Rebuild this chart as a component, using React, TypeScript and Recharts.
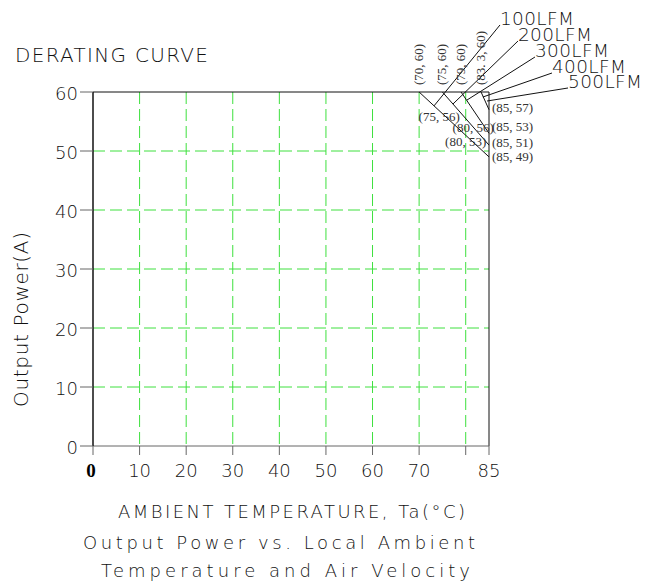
import { LineChart, Line, XAxis, YAxis, CartesianGrid, ReferenceLine } from "recharts";

// Derating curves: output (A) against ambient temperature (°C), one per air velocity
const CURVE_NAMES = ["100LFM", "200LFM", "300LFM", "400LFM"];
const CURVE_TEMPS = [
  [70, 85],
  [75, 85],
  [79, 85],
  [83.3, 85],
];
const CURVE_POWER = [
  [60, 49],
  [60, 51],
  [60, 53],
  [60, 57],
];

const X_TICKS = [0, 10, 20, 30, 40, 50, 60, 70, 80, 85];
const Y_TICKS = [0, 10, 20, 30, 40, 50, 60];
const X_GRID = [10, 20, 30, 40, 50, 60, 70, 80];
const Y_GRID = [10, 20, 30, 40, 50];

// labels on the break points
const TOP_LABELS = ["(70, 60)", "(75, 60)", "(79, 60)", "(83. 3, 60)"];
const TOP_LABEL_T = [70, 75, 79, 83.3];
const END_LABELS = ["(85, 57)", "(85, 53)", "(85, 51)", "(85, 49)"];
const END_LABEL_P = [57.3, 54.1, 51.4, 49.0];
const MID_LABELS = ["(75, 56)", "(80, 56)", "(80, 53)"];
const MID_LABEL_T = [74.3, 81.6, 80.0];
const MID_LABEL_P = [55.9, 54.0, 51.6];

// air velocity labels and their leader lines
const LFM_LABELS = ["100LFM", "200LFM", "300LFM", "400LFM", "500LFM"];
const LEADER_FROM = [
  [73.2, 57.65],
  [77.27, 57.97],
  [80.28, 58.64],
  [83.69, 59.15],
  [84.57, 58.47],
];
const LEADER_TO = [
  [87.36, 71.36],
  [91.22, 68.64],
  [94.87, 65.93],
  [98.52, 63.22],
  [101.96, 60.68],
];

const W = 646;
const H = 585;
const PLOT = { left: 93, top: 92, right: 489, bottom: 446 };
const X_MAX = 85;
const Y_MAX = 60;

const GRID_GREEN = "#3ee03e";
const INK = "#111";
const CAD_FONT = "'DejaVu Sans', sans-serif";
const SERIF = "'Liberation Serif', 'DejaVu Serif', serif";

const px = (t: number) => PLOT.left + (t / X_MAX) * (PLOT.right - PLOT.left);
const py = (p: number) => PLOT.bottom - (p / Y_MAX) * (PLOT.bottom - PLOT.top);

const series = CURVE_NAMES.map((name, i) => ({
  name,
  data: CURVE_TEMPS[i].map((t, j) => ({ t, p: CURVE_POWER[i][j] })),
}));

function XTick(props: any) {
  const { x, y, payload } = props;
  if (payload.value === 80) return <g />;
  if (payload.value === 0) {
    return (
      <text x={x - 2} y={y + 20} textAnchor="middle" fontFamily={SERIF} fontWeight="bold" fontSize={19} fill="#000">
        0
      </text>
    );
  }
  return (
    <text x={x} y={y + 20} textAnchor="middle" fontFamily={CAD_FONT} fontWeight={200} fontSize={18} fill={INK}>
      {payload.value}
    </text>
  );
}

function YTick(props: any) {
  const { x, y, payload } = props;
  return (
    <text x={x} y={y + 8} textAnchor="end" fontFamily={CAD_FONT} fontWeight={200} fontSize={18} fill={INK}>
      {payload.value}
    </text>
  );
}

export default function App() {
  const cad = { fontFamily: CAD_FONT, fontWeight: 200, fill: INK } as const;
  const serif = { fontFamily: SERIF, fontSize: 13, fill: "#333" } as const;

  return (
    <div style={{ position: "absolute", left: 0, top: 0, width: W, height: H, background: "#fff" }}>
      <LineChart
        width={W}
        height={H}
        margin={{ top: PLOT.top, right: W - PLOT.right, bottom: H - PLOT.bottom - 30, left: PLOT.left - 40 }}
      >
        <CartesianGrid
          stroke={GRID_GREEN}
          strokeDasharray="12 5"
          strokeWidth={1}
          horizontalValues={Y_GRID}
          verticalValues={X_GRID}
        />
        <XAxis
          dataKey="t"
          type="number"
          domain={[0, X_MAX]}
          ticks={X_TICKS}
          interval={0}
          height={30}
          tickSize={9}
          tick={<XTick />}
          axisLine={{ stroke: "#666" }}
          tickLine={{ stroke: "#666" }}
          allowDuplicatedCategory={false}
        />
        <YAxis
          dataKey="p"
          type="number"
          domain={[0, Y_MAX]}
          ticks={Y_TICKS}
          interval={0}
          width={40}
          tickSize={13}
          tick={<YTick />}
          axisLine={{ stroke: "#111", strokeWidth: 1.5 }}
          tickLine={{ stroke: "#666" }}
        />
        <ReferenceLine y={Y_MAX} stroke="#111" strokeWidth={1} />
        <ReferenceLine x={X_MAX} stroke="#111" strokeWidth={1} />
        {series.map((s) => (
          <Line
            key={s.name}
            data={s.data}
            dataKey="p"
            name={s.name}
            stroke="#111"
            strokeWidth={1}
            dot={false}
            isAnimationActive={false}
          />
        ))}
        {LEADER_FROM.map((from, i) => (
          <ReferenceLine
            key={LFM_LABELS[i]}
            segment={[
              { x: from[0], y: from[1] },
              { x: LEADER_TO[i][0], y: LEADER_TO[i][1] },
            ]}
            ifOverflow="visible"
            stroke="#111"
            strokeWidth={1}
          />
        ))}
      </LineChart>

      <svg width={W} height={H} style={{ position: "absolute", left: 0, top: 0, pointerEvents: "none" }}>
        <text x={15} y={62} fontSize={20} textLength={193} {...cad}>
          DERATING CURVE
        </text>
        <text transform="translate(28 407) rotate(-90)" fontSize={20} textLength={175} {...cad}>
          Output Power(A)
        </text>
        <text x={118} y={518} fontSize={18} textLength={347} {...cad}>
          AMBIENT TEMPERATURE, Ta(°C)
        </text>
        <text x={83} y={549} fontSize={18} textLength={392} {...cad}>
          Output Power vs. Local Ambient
        </text>
        <text x={101} y={577} fontSize={18} textLength={369} {...cad}>
          Temperature and Air Velocity
        </text>

        {LFM_LABELS.map((label, i) => (
          <text key={label} x={px(LEADER_TO[i][0])} y={py(LEADER_TO[i][1])} fontSize={18.5} textLength={74} {...cad}>
            {label}
          </text>
        ))}

        {TOP_LABELS.map((label, i) => (
          <text
            key={label}
            transform={`translate(${px(TOP_LABEL_T[i]) + 4} ${PLOT.top - 7}) rotate(-90)`}
            {...serif}
          >
            {label}
          </text>
        ))}
        {END_LABELS.map((label, i) => (
          <text key={label} x={PLOT.right + 3} y={py(END_LABEL_P[i])} dominantBaseline="central" {...serif}>
            {label}
          </text>
        ))}
        {MID_LABELS.map((label, i) => (
          <text
            key={label}
            x={px(MID_LABEL_T[i])}
            y={py(MID_LABEL_P[i])}
            textAnchor="middle"
            dominantBaseline="central"
            {...serif}
          >
            {label}
          </text>
        ))}
      </svg>
    </div>
  );
}
